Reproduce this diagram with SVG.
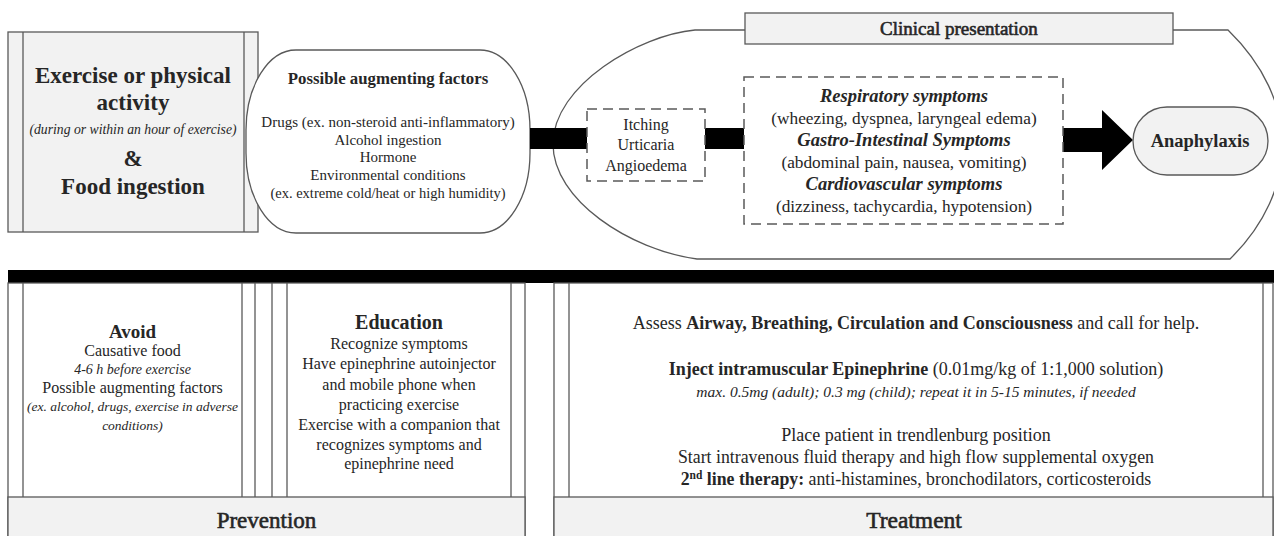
<svg xmlns="http://www.w3.org/2000/svg" width="1274" height="536" viewBox="0 0 1274 536">
<style>
text { font-family: "Liberation Serif", "Times New Roman", serif; fill: #262626; text-anchor: middle; }
.b { font-weight: bold; }
.i { font-style: italic; }
.bi { font-weight: bold; font-style: italic; }
.box { fill: #f2f2f2; stroke: #595959; stroke-width: 1.3; }
.wbox { fill: #ffffff; stroke: #595959; stroke-width: 1.3; }
.ln { stroke: #595959; stroke-width: 1.3; fill: none; }
.dash { fill: #ffffff; stroke: #595959; stroke-width: 1.5; stroke-dasharray: 10 6; }
.bar { fill: #000000; }
.ttl { stroke: #262626; stroke-width: 0.6; }
</style>
<rect width="1274" height="536" fill="#ffffff"/>

<g id="clinical-presentation">
  <path class="wbox" d="M 695 30 H 1228 C 1300 100 1300 190 1230 259 H 697 C 630 250 553 200 553 144 C 553 85 640 35 695 30 Z"/>
  <rect class="box" x="745" y="13" width="428" height="31"/>
  <text class="ttl" x="959" y="35" style="font-size:19px">Clinical presentation</text>
</g>

<g id="cause">
  <rect class="box" x="8" y="32" width="250" height="200"/>
  <line class="ln" x1="23" y1="32" x2="23" y2="232"/>
  <line class="ln" x1="244" y1="32" x2="244" y2="232"/>
  <text class="b" x="133" y="83" style="font-size:23px">Exercise or physical</text>
  <text class="b" x="133" y="110" style="font-size:23px">activity</text>
  <text class="i" x="133" y="134" style="font-size:13.7px">(during or within an hour of exercise)</text>
  <text class="b" x="133" y="166" style="font-size:23px">&amp;</text>
  <text class="b" x="133" y="194" style="font-size:23px">Food ingestion</text>
</g>

<g id="augmenting-factors">
  <rect class="wbox" x="246" y="50" width="284" height="183" rx="50" ry="80"/>
  <text class="b" x="388" y="84" style="font-size:16.8px">Possible augmenting factors</text>
  <text x="388" y="127" style="font-size:15px">Drugs (ex. non-steroid anti-inflammatory)</text>
  <text x="388" y="144.5" style="font-size:15px">Alcohol ingestion</text>
  <text x="388" y="162" style="font-size:15px">Hormone</text>
  <text x="388" y="180" style="font-size:15px">Environmental conditions</text>
  <text x="388" y="198" style="font-size:14.5px">(ex. extreme cold/heat or high humidity)</text>
</g>

<g id="connectors">
  <rect class="bar" x="530" y="128" width="57" height="21"/>
  <rect class="bar" x="705" y="128" width="39" height="21"/>
  <polygon class="bar" points="1063,128 1102,128 1102,110 1133,140 1102,170 1102,152 1063,152"/>
</g>

<g id="skin-symptoms">
  <rect class="dash" x="587" y="109" width="118" height="72"/>
  <text x="646" y="130" style="font-size:16px">Itching</text>
  <text x="646" y="150" style="font-size:16px">Urticaria</text>
  <text x="646" y="171" style="font-size:16px">Angioedema</text>
</g>

<g id="systemic-symptoms">
  <rect class="dash" x="744" y="77" width="319" height="147"/>
  <text class="bi" x="904" y="102" style="font-size:18.5px">Respiratory symptoms</text>
  <text x="904" y="124" style="font-size:17.3px">(wheezing, dyspnea, laryngeal edema)</text>
  <text class="bi" x="904" y="146" style="font-size:18.5px">Gastro-Intestinal Symptoms</text>
  <text x="904" y="168" style="font-size:17.3px">(abdominal pain, nausea, vomiting)</text>
  <text class="bi" x="904" y="190" style="font-size:18.5px">Cardiovascular symptoms</text>
  <text x="904" y="212" style="font-size:17.3px">(dizziness, tachycardia, hypotension)</text>
</g>

<g id="anaphylaxis">
  <rect class="box" x="1133" y="107" width="135" height="68" rx="34" ry="34"/>
  <text class="b" x="1200" y="147" style="font-size:18.5px">Anaphylaxis</text>
</g>

<g id="divider">
  <rect class="bar" x="8" y="270" width="1266" height="13"/>
</g>

<g id="prevention">
  <rect class="ln" x="8" y="283" width="517" height="260"/>
  <line class="ln" x1="23" y1="283" x2="23" y2="497"/>
  <line class="ln" x1="242" y1="283" x2="242" y2="497"/>
  <line class="ln" x1="255" y1="283" x2="255" y2="497"/>
  <line class="ln" x1="272" y1="283" x2="272" y2="497"/>
  <line class="ln" x1="287" y1="283" x2="287" y2="497"/>
  <line class="ln" x1="511" y1="283" x2="511" y2="497"/>
  <rect class="box" x="8" y="497" width="517" height="45"/>
  <text class="ttl" x="266.5" y="528" style="font-size:23px">Prevention</text>
  <text class="b" x="132.5" y="338" style="font-size:19px">Avoid</text>
  <text x="132.5" y="356" style="font-size:16px">Causative food</text>
  <text class="i" x="132.5" y="374" style="font-size:14px">4-6 h before exercise</text>
  <text x="132.5" y="392.5" style="font-size:16px">Possible augmenting factors</text>
  <text class="i" x="132.5" y="411" style="font-size:13.5px">(ex. alcohol, drugs, exercise in adverse</text>
  <text class="i" x="132.5" y="429.5" style="font-size:13.5px">conditions)</text>
  <text class="b" x="399" y="329" style="font-size:20px">Education</text>
  <text x="399" y="349" style="font-size:16px">Recognize symptoms</text>
  <text x="399" y="369" style="font-size:16px">Have epinephrine autoinjector</text>
  <text x="399" y="390" style="font-size:16px">and mobile phone when</text>
  <text x="399" y="410" style="font-size:16px">practicing exercise</text>
  <text x="399" y="430" style="font-size:16px">Exercise with a companion that</text>
  <text x="399" y="450" style="font-size:16px">recognizes symptoms and</text>
  <text x="399" y="469" style="font-size:16px">epinephrine need</text>
</g>

<g id="treatment">
  <rect class="ln" x="554" y="283" width="719" height="260"/>
  <line class="ln" x1="569" y1="283" x2="569" y2="497"/>
  <line class="ln" x1="1263" y1="283" x2="1263" y2="497"/>
  <rect class="box" x="554" y="497" width="719" height="45"/>
  <text class="ttl" x="914" y="528" style="font-size:23.5px">Treatment</text>
  <text x="916" y="329" style="font-size:18px">Assess <tspan class="b">Airway, Breathing, Circulation and Consciousness</tspan> and call for help.</text>
  <text x="916" y="375" style="font-size:18px"><tspan class="b">Inject intramuscular Epinephrine</tspan> (0.01mg/kg of 1:1,000 solution)</text>
  <text class="i" x="916" y="397" style="font-size:15.5px">max. 0.5mg (adult); 0.3 mg (child); repeat it in 5-15 minutes, if needed</text>
  <text x="916" y="441" style="font-size:18px">Place patient in trendlenburg position</text>
  <text x="916" y="463" style="font-size:17.8px">Start intravenous fluid therapy and high flow supplemental oxygen</text>
  <text x="916" y="485" style="font-size:17.8px"><tspan class="b">2<tspan style="font-size:11.5px" dy="-6">nd</tspan><tspan dy="6"> line therapy:</tspan></tspan> anti-histamines, bronchodilators, corticosteroids</text>
</g>
</svg>
